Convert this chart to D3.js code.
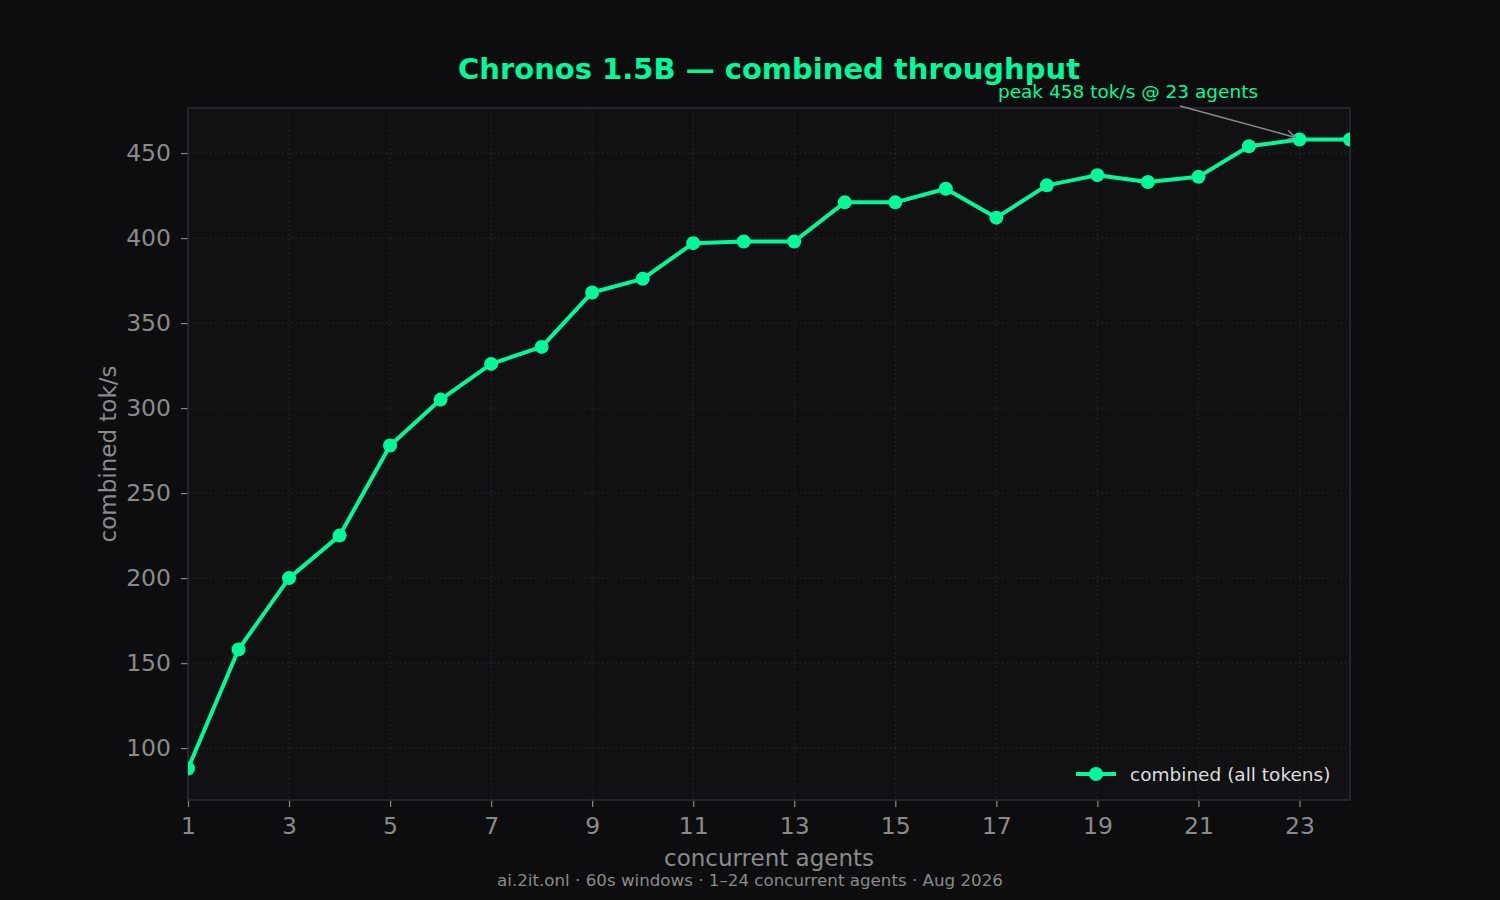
<!DOCTYPE html>
<html><head><meta charset="utf-8">
<script src="https://cdn.jsdelivr.net/npm/d3@7"></script>
<style>
html,body{margin:0;padding:0;background:#0d0d0f;}
svg{display:block;font-family:"DejaVu Sans",sans-serif;}
</style></head>
<body>
<svg id="chart" width="1500" height="900"></svg>
<script>
const agents = [1,2,3,4,5,6,7,8,9,10,11,12,13,14,15,16,17,18,19,20,21,22,23,24];
const combined = [88,158,200,225,278,305,326,336,368,376,397,398,398,421,421,429,412,431,437,433,436,454,458,458];
const xTicks = [1,3,5,7,9,11,13,15,17,19,21,23];
const yTicks = [100,150,200,250,300,350,400,450];
const titleText = "Chronos 1.5B — combined throughput";
const xLabel = "concurrent agents";
const yLabel = "combined tok/s";
const footer = "ai.2it.onl · 60s windows · 1–24 concurrent agents · Aug 2026";
const legendLabel = "combined (all tokens)";
const peakIdx = combined.indexOf(d3.max(combined));
const annText = `peak ${combined[peakIdx]} tok/s @ ${agents[peakIdx]} agents`;

const green = "#00fa9a";
const svg = d3.select("#chart");
const m = {l:188, r:1350, t:108, b:800};
const x = d3.scaleLinear().domain([1,24]).range([m.l, m.r]);
const yMin = d3.min(combined), yMax = d3.max(combined), pad = (yMax-yMin)*0.05;
const y = d3.scaleLinear().domain([yMin-pad, yMax+pad]).range([m.b, m.t]);

svg.append("rect").attr("width",1500).attr("height",900).attr("fill","#0d0d0f");
svg.append("rect").attr("x",m.l).attr("y",m.t).attr("width",m.r-m.l).attr("height",m.b-m.t).attr("fill","#111114");

// grid
const g = svg.append("g");
g.selectAll("line.vx").data(xTicks).join("line")
  .attr("x1",d=>x(d)).attr("x2",d=>x(d)).attr("y1",m.t).attr("y2",m.b)
  .attr("stroke","#2c2c30").attr("stroke-width",1).attr("stroke-dasharray","1.5,3");
g.selectAll("line.hy").data(yTicks).join("line")
  .attr("x1",m.l).attr("x2",m.r).attr("y1",d=>y(d)).attr("y2",d=>y(d))
  .attr("stroke","#2c2c30").attr("stroke-width",1).attr("stroke-dasharray","1.5,3");

// axes
const xAxis = svg.append("g").attr("transform",`translate(0,${m.b})`)
  .call(d3.axisBottom(x).tickValues(xTicks).tickSize(7).tickPadding(10).tickFormat(d3.format("d")));
const yAxis = svg.append("g").attr("transform",`translate(${m.l},0)`)
  .call(d3.axisLeft(y).tickValues(yTicks).tickSize(7).tickPadding(10).tickFormat(d3.format("d")));
[xAxis,yAxis].forEach(a=>{
  a.select(".domain").remove();
  a.selectAll(".tick line").attr("stroke","#888").attr("stroke-width",1.2);
  a.selectAll(".tick text").attr("fill","#8a8a8a").style("font-size","23.5px").style("font-family","DejaVu Sans");
});

// spines
svg.append("rect").attr("x",m.l).attr("y",m.t).attr("width",m.r-m.l).attr("height",m.b-m.t)
  .attr("fill","none").attr("stroke","#2a2a30").attr("stroke-width",1.6);

// clip
svg.append("clipPath").attr("id","clip").append("rect")
  .attr("x",m.l).attr("y",m.t).attr("width",m.r-m.l).attr("height",m.b-m.t);
const data = agents.map((a,i)=>({a, v:combined[i]}));
const plot = svg.append("g").attr("clip-path","url(#clip)");
plot.append("path").datum(data)
  .attr("d", d3.line().x(d=>x(d.a)).y(d=>y(d.v)))
  .attr("fill","none").attr("stroke",green).attr("stroke-width",4).attr("stroke-linejoin","round");
plot.selectAll("circle").data(data).join("circle")
  .attr("cx",d=>x(d.a)).attr("cy",d=>y(d.v)).attr("r",7).attr("fill",green);

// title
svg.append("text").attr("x",(m.l+m.r)/2).attr("y",79).attr("text-anchor","middle")
  .attr("fill",green).style("font-size","29px").style("font-weight","bold").text(titleText);

// axis labels
svg.append("text").attr("x",(m.l+m.r)/2).attr("y",866).attr("text-anchor","middle")
  .attr("fill","#8a8a8a").style("font-size","23px").text(xLabel);
svg.append("text").attr("transform",`translate(116,${(m.t+m.b)/2}) rotate(-90)`).attr("text-anchor","middle")
  .attr("fill","#8a8a8a").style("font-size","23px").text(yLabel);

// footer
svg.append("text").attr("x",750).attr("y",886).attr("text-anchor","middle")
  .attr("fill","#8a8a8a").style("font-size","16.7px").text(footer);

// annotation
const px = x(agents[peakIdx]), py = y(combined[peakIdx]);
svg.append("defs").append("marker").attr("id","arr").attr("viewBox","0 0 10 10")
  .attr("refX",9).attr("refY",5).attr("markerWidth",10).attr("markerHeight",10).attr("orient","auto")
  .attr("markerUnits","userSpaceOnUse")
  .append("path").attr("d","M0,0 L9,5 L0,10").attr("fill","none").attr("stroke","#8a8a8a").attr("stroke-width",1.5);
svg.append("line").attr("x1",1180).attr("y1",106).attr("x2",px-4).attr("y2",py-2)
  .attr("stroke","#8a8a8a").attr("stroke-width",1.5).attr("marker-end","url(#arr)");
svg.append("text").attr("x",1128).attr("y",98).attr("text-anchor","middle")
  .attr("fill",green).style("font-size","18.5px").text(annText);

// legend
const lg = svg.append("g");
lg.append("line").attr("x1",1076).attr("x2",1116).attr("y1",774).attr("y2",774).attr("stroke",green).attr("stroke-width",4);
lg.append("circle").attr("cx",1096).attr("cy",774).attr("r",7).attr("fill",green);
lg.append("text").attr("x",1130).attr("y",781).attr("fill","#dddddd").style("font-size","18.5px").text(legendLabel);
</script>
</body></html>
